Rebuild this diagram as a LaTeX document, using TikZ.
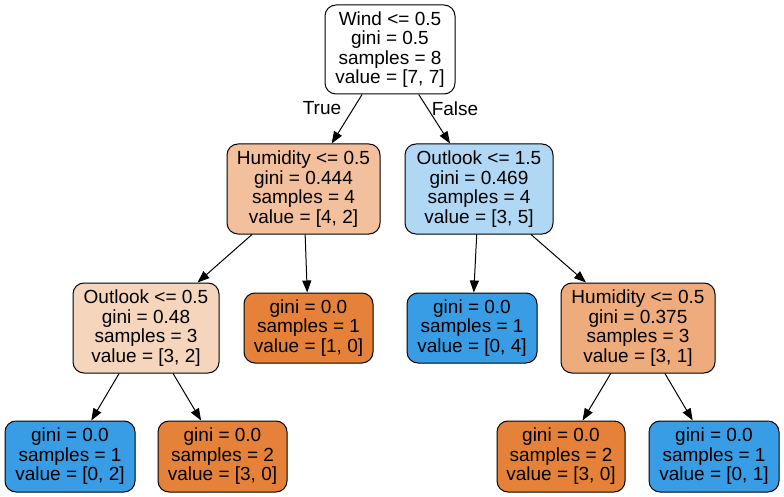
\documentclass[tikz,border=0pt]{standalone}
\usepackage{fontspec}
\setmainfont{Liberation Sans}
\usetikzlibrary{arrows.meta}
\definecolor{leafor}{RGB}{229,129,57}
\definecolor{leafbl}{RGB}{57,157,229}
\definecolor{humL}{RGB}{242,192,156}
\definecolor{outR}{RGB}{176,216,245}
\definecolor{outL}{RGB}{246,213,189}
\definecolor{humR}{RGB}{238,171,123}
\begin{document}
\begin{tikzpicture}[x=1pt,y=-1pt,
  treenode/.style={draw=black, line width=1pt, rounded corners=11pt, inner sep=0pt,
    align=center, font=\fontsize{19}{19.5}\selectfont},
  inner4/.style={treenode, minimum height=90pt},
  leaf3/.style={treenode, minimum height=71pt, minimum width=130pt},
  edge/.style={line width=1pt, -{Triangle[length=12pt,width=9pt]}},
  elabel/.style={font=\fontsize{19}{19.5}\selectfont, inner sep=0pt}]
\useasboundingbox (0,0) rectangle (784,497);
\node[inner4, fill=white, minimum width=130pt, minimum height=89pt] (root) at (390,49.5)
  {Wind <= 0.5\\gini = 0.5\\samples = 8\\value = [7, 7]};
\node[inner4, fill=humL, minimum width=153pt] (hum1) at (303.5,189)
  {Humidity <= 0.5\\gini = 0.444\\samples = 4\\value = [4, 2]};
\node[inner4, fill=outR, minimum width=148pt] (out1) at (479,189)
  {Outlook <= 1.5\\gini = 0.469\\samples = 4\\value = [3, 5]};
\node[inner4, fill=outL, minimum width=146pt] (out2) at (146,328)
  {Outlook <= 0.5\\gini = 0.48\\samples = 3\\value = [3, 2]};
\node[leaf3, fill=leafor, minimum height=70pt, minimum width=129pt] (l10) at (308.5,328)
  {gini = 0.0\\samples = 1\\value = [1, 0]};
\node[leaf3, fill=leafbl, minimum height=70pt] (l04) at (472,328)
  {gini = 0.0\\samples = 1\\value = [0, 4]};
\node[inner4, fill=humR, minimum width=154pt] (hum2) at (638,328)
  {Humidity <= 0.5\\gini = 0.375\\samples = 3\\value = [3, 1]};
\node[leaf3, fill=leafbl] (l02) at (70,456.5)
  {gini = 0.0\\samples = 1\\value = [0, 2]};
\node[leaf3, fill=leafor, minimum width=129pt] (l30a) at (222.5,456.5)
  {gini = 0.0\\samples = 2\\value = [3, 0]};
\node[leaf3, fill=leafor, minimum width=128pt] (l30b) at (561,456.5)
  {gini = 0.0\\samples = 2\\value = [3, 0]};
\node[leaf3, fill=leafbl] (l01) at (714,456.5)
  {gini = 0.0\\samples = 1\\value = [0, 1]};
\draw[edge] (root) -- (hum1);
\draw[edge] (root) -- (out1);
\draw[edge] (hum1) -- (out2);
\draw[edge] (hum1) -- (l10);
\draw[edge] (out1) -- (l04);
\draw[edge] (out1) -- (hum2);
\draw[edge] (out2) -- (l02);
\draw[edge] (out2) -- (l30a);
\draw[edge] (hum2) -- (l30b);
\draw[edge] (hum2) -- (l01);
\node[elabel] (tl) at (322,108.5) {True};
\node[elabel] (fl) at (455,108.5) {False};
\end{tikzpicture}
\end{document}
